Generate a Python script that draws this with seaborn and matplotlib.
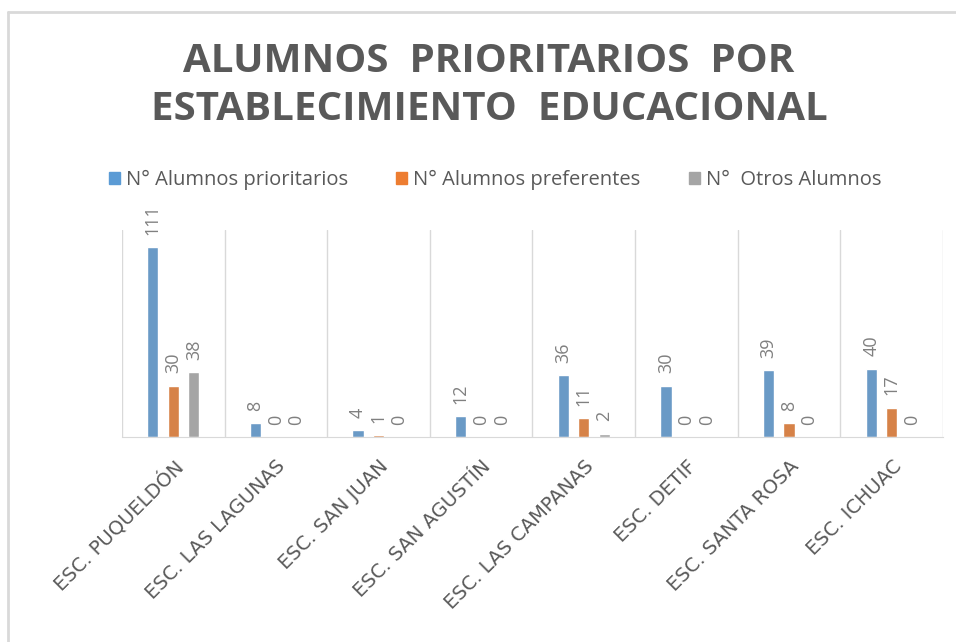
import pandas as pd
import matplotlib.pyplot as plt
import seaborn as sns
from matplotlib.lines import Line2D

escuelas = ['ESC. PUQUELDÓN', 'ESC. LAS LAGUNAS', 'ESC. SAN JUAN', 'ESC. SAN AGUSTÍN',
            'ESC. LAS CAMPANAS', 'ESC. DETIF', 'ESC. SANTA ROSA', 'ESC. ICHUAC']
prioritarios = [111, 8, 4, 12, 36, 30, 39, 40]
preferentes = [30, 0, 1, 0, 11, 0, 8, 17]
otros = [38, 0, 0, 0, 2, 0, 0, 0]
series = ['N° Alumnos prioritarios', 'N° Alumnos preferentes', 'N°  Otros Alumnos']

df = pd.DataFrame({'escuela': escuelas, series[0]: prioritarios,
                   series[1]: preferentes, series[2]: otros})
df = df.melt(id_vars='escuela', var_name='serie', value_name='valor')

palette = {series[0]: '#5B9BD5', series[1]: '#ED7D31', series[2]: '#A5A5A5'}

sns.set_style('white')
plt.rcParams['font.family'] = ['Open Sans', 'DejaVu Sans']

fig = plt.figure(figsize=(9.56, 6.42), dpi=100)
ax = fig.add_axes([0.1276, 0.3193, 0.8588, 0.3224])

sns.barplot(data=df, x='escuela', y='valor', hue='serie', palette=palette,
            width=0.6, gap=0.45, ax=ax, legend=False)

for cont in ax.containers:
    ax.bar_label(cont, padding=9, rotation=90, color='#808080', fontsize=13)

ax.set_ylim(0, 121)
ax.set_xlim(-0.5, len(escuelas) - 0.5)
ax.set_yticks([])
ax.set_xlabel('')
ax.set_ylabel('')
ax.set_xticks(range(len(escuelas)))
ax.set_xticklabels(escuelas, rotation=45, ha='right', va='top',
                   rotation_mode='anchor', color='#595959', fontsize=14,
                   family='DejaVu Sans')
ax.tick_params(axis='x', length=0, pad=14)
ax.set_xticks([i - 0.5 for i in range(len(escuelas) + 1)], minor=True)
ax.grid(True, which='minor', axis='x', color='#D9D9D9', lw=1)
ax.tick_params(which='minor', length=0)
for s in ['top', 'left', 'right']:
    ax.spines[s].set_visible(False)
ax.spines['bottom'].set_color('#D9D9D9')

fig.text(0.5115, 1 - 62 / 642, 'ALUMNOS  PRIORITARIOS  POR', ha='center', va='center',
         fontsize=29, fontweight='bold', color='#595959')
fig.text(0.5115, 1 - 110 / 642, 'ESTABLECIMIENTO  EDUCACIONAL', ha='center', va='center',
         fontsize=29, fontweight='bold', color='#595959')

handles = [plt.Rectangle((0, 0), 1, 1, color=palette[s]) for s in series]
fig.legend(handles, series, loc='center', bbox_to_anchor=(0.518, 1 - 180 / 642),
           ncol=3, frameon=False, fontsize=14.5, handlelength=0.55, handleheight=0.55,
           handletextpad=0.3, columnspacing=2.4, labelcolor='#595959')

fig.add_artist(Line2D([8 / 956, 8 / 956], [0, 1 - 12 / 642], color='#D9D9D9', lw=2))
fig.add_artist(Line2D([8 / 956, 1], [1 - 12 / 642, 1 - 12 / 642], color='#D9D9D9', lw=2))

fig.savefig('out.png', dpi=100)
